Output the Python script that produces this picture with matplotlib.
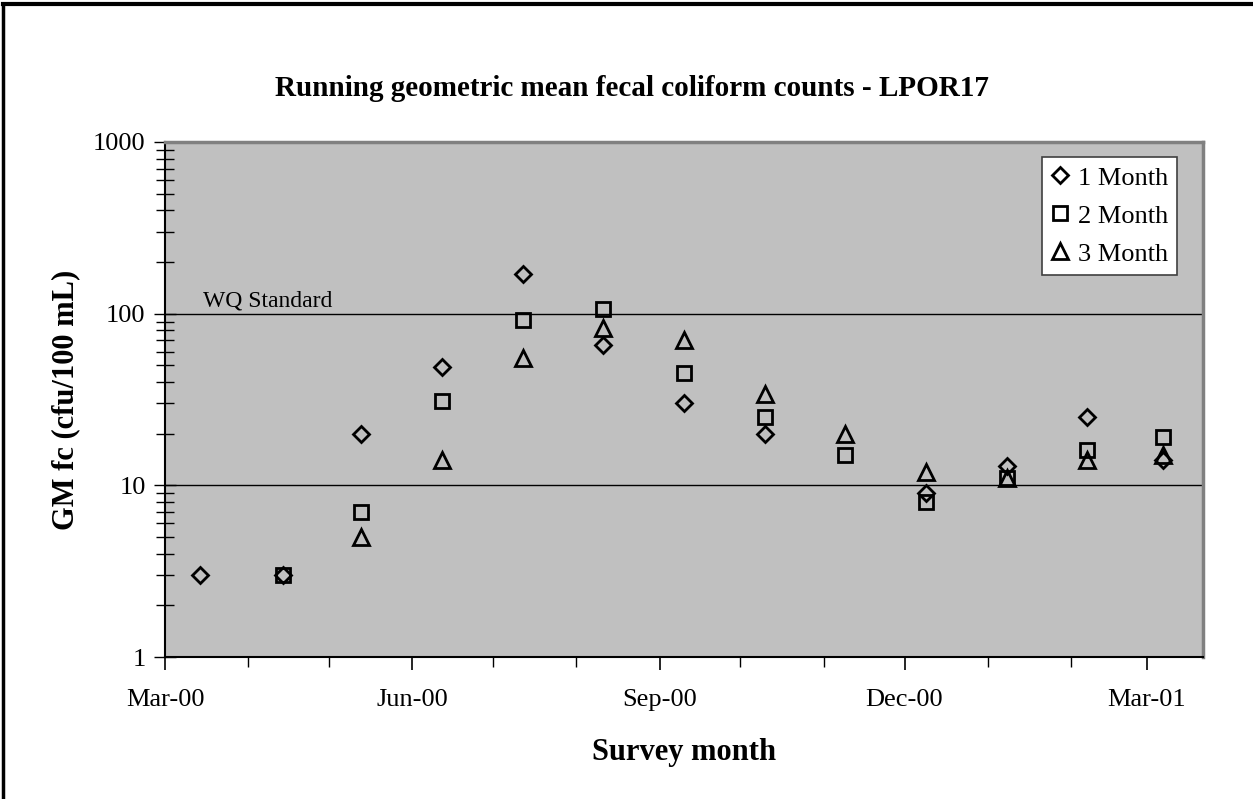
import datetime as dt
import numpy as np
import matplotlib.pyplot as plt
import matplotlib.dates as mdates
from matplotlib.ticker import LogLocator, NullFormatter, FixedLocator
from matplotlib.lines import Line2D

plt.rcParams["font.family"] = ["Liberation Serif", "DejaVu Serif"]

survey_dates = [
    dt.date(2000, 3, 14), dt.date(2000, 4, 14), dt.date(2000, 5, 13),
    dt.date(2000, 6, 12), dt.date(2000, 7, 12), dt.date(2000, 8, 11),
    dt.date(2000, 9, 10), dt.date(2000, 10, 10), dt.date(2000, 11, 9),
    dt.date(2000, 12, 9), dt.date(2001, 1, 8), dt.date(2001, 2, 7),
    dt.date(2001, 3, 7),
]
gm_1month = [3, 3, 20, 49, 170, 66, 30, 20, np.nan, 9, 13, 25, 14]
gm_2month = [np.nan, 3, 7, 31, 92, 107, 45, 25, 15, 8, 11, 16, 19]
gm_3month = [np.nan, np.nan, 5, 14, 55, 82, 70, 34, 20, 12, 11, 14, 15]
wq_standard = 100

fig = plt.figure(figsize=(12.53, 7.99), dpi=100)
ax = fig.add_axes([165 / 1253, 1 - 657 / 799, (1203 - 165) / 1253, (657 - 142) / 799])
ax.set_facecolor("#C0C0C0")

mk = dict(linestyle="none", markerfacecolor="none", markeredgecolor="black",
          markeredgewidth=2, zorder=3)
ax.plot(survey_dates, gm_1month, marker="D", markersize=8, label="1 Month", **mk)
ax.plot(survey_dates, gm_2month, marker="s", markersize=10.5, label="2 Month", **mk)
ax.plot(survey_dates, gm_3month, marker="^", markersize=11, label="3 Month", **mk)

ax.set_yscale("log")
ax.set_ylim(1, 1000)
ax.set_xlim(dt.date(2000, 3, 1), dt.date(2001, 3, 22))

ax.yaxis.set_major_locator(FixedLocator([1, 10, 100, 1000]))
ax.yaxis.set_major_formatter(plt.FuncFormatter(lambda v, p: f"{v:g}"))
ax.yaxis.set_minor_locator(LogLocator(base=10, subs=np.arange(2, 10)))
ax.yaxis.set_minor_formatter(NullFormatter())
ax.tick_params(axis="y", which="major", direction="inout", length=16, width=1,
               labelsize=19, pad=6)
ax.tick_params(axis="y", which="minor", direction="inout", length=13, width=1)

ax.xaxis.set_major_locator(mdates.MonthLocator(bymonth=[3, 6, 9, 12]))
ax.xaxis.set_minor_locator(mdates.MonthLocator())
ax.xaxis.set_major_formatter(mdates.DateFormatter("%b-%y"))
ax.tick_params(axis="x", which="major", direction="out", length=9, width=1.2,
               labelsize=19, pad=14)
ax.tick_params(axis="x", which="minor", direction="out", length=7, width=1)

for v in [10, 100]:
    ax.axhline(v, color="black", linewidth=1, zorder=1)
ax.text(dt.date(2000, 3, 15), wq_standard * 1.03, "WQ Standard", fontsize=17,
        va="bottom", ha="left")

for s in ["top", "right"]:
    ax.spines[s].set_color("#808080")
    ax.spines[s].set_linewidth(2.5)
ax.spines["left"].set_linewidth(1.5)
ax.spines["bottom"].set_linewidth(1.5)

ax.set_ylabel("GM fc (cfu/100 mL)", fontsize=22, fontweight="bold")
ax.yaxis.set_label_coords(-0.082, 0.5)
ax.set_xlabel("Survey month", fontsize=22, fontweight="bold")
ax.xaxis.set_label_coords(0.5, -0.158)

leg = ax.legend(loc="upper right", bbox_to_anchor=(0.975, 0.971), borderaxespad=0,
                fontsize=19, frameon=True, fancybox=False, framealpha=1,
                edgecolor="#404040", handlelength=0.7, handletextpad=0.3,
                borderpad=0.35, labelspacing=0.55, markerscale=1.0)
leg.get_frame().set_linewidth(1.2)

fig.text(632 / 1253, 1 - 88 / 799, "Running geometric mean fecal coliform counts - LPOR17",
         fontsize=21, fontweight="bold", ha="center", va="center")

# page frame (left and top edges visible in the source)
fig.add_artist(Line2D([3 / 1253, 3 / 1253], [0, 1 - 4 / 799], transform=fig.transFigure,
                      color="black", linewidth=2.5))
fig.add_artist(Line2D([3 / 1253, 1], [1 - 4 / 799, 1 - 4 / 799], transform=fig.transFigure,
                      color="black", linewidth=3))

fig.savefig("out.png", dpi=100)
